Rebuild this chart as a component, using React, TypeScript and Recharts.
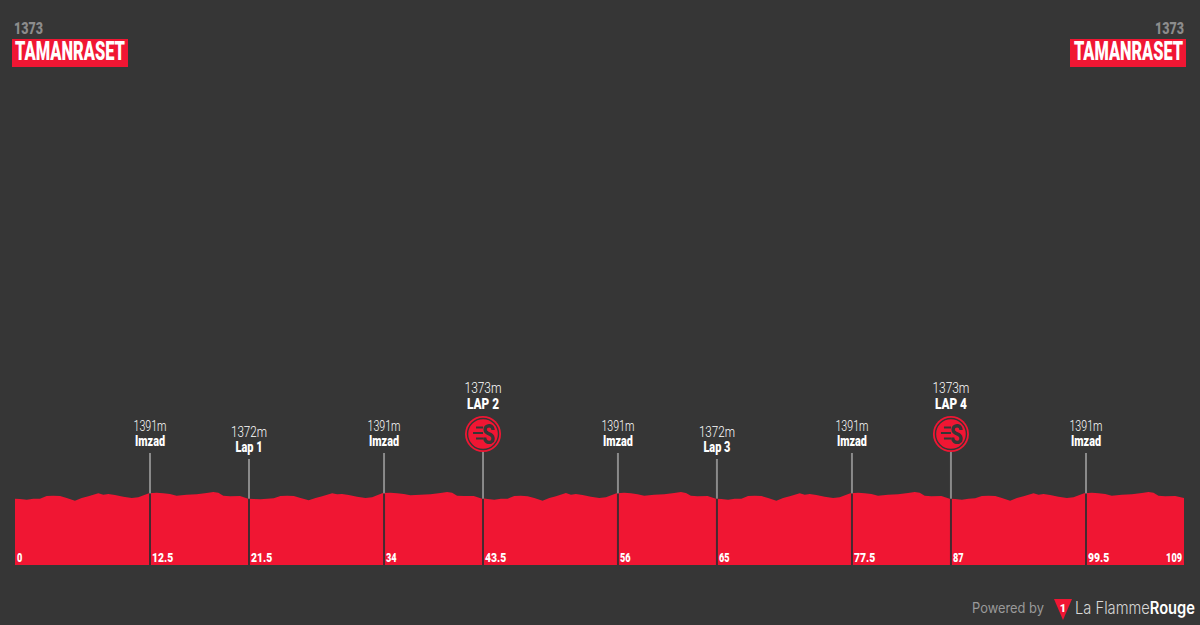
import React from "react";
import { ComposedChart, Area, XAxis, YAxis, ReferenceLine } from "recharts";

const BG = "#363636";
const RED = "#F01633";
const FONT = "Roboto, sans-serif";
const FOOTER_FONT = "Inter, sans-serif";

// profile, lap by lap
const lap1Km = [0, 0.47, 1.09, 1.71, 2.33, 2.95, 3.57, 4.2, 4.82, 5.59, 6.22, 6.84, 7.77, 8.24, 8.7, 9.32, 10.1, 10.88, 11.5, 12.49, 13.21, 13.83, 14.45, 15.07, 16.0, 16.94, 17.87, 18.49, 18.96, 19.42, 20.05, 20.98, 21.75];
const lap1Elevation = [1374, 1373, 1371, 1374, 1374, 1382, 1383, 1382, 1376, 1368, 1376, 1381, 1390, 1386, 1388, 1385, 1380, 1376, 1378, 1390, 1392, 1390, 1388, 1383, 1386, 1387, 1391, 1394, 1392, 1383, 1381, 1382, 1374];
const lap2Km = [21.8, 22.27, 22.89, 23.51, 24.13, 24.75, 25.37, 26.0, 26.62, 27.39, 28.02, 28.64, 29.57, 30.04, 30.5, 31.12, 31.9, 32.68, 33.3, 34.29, 35.01, 35.63, 36.25, 36.87, 37.8, 38.74, 39.67, 40.29, 40.76, 41.22, 41.85, 42.78, 43.55];
const lap2Elevation = [1374, 1373, 1372, 1374, 1375, 1382, 1383, 1382, 1376, 1369, 1376, 1381, 1390, 1387, 1388, 1385, 1380, 1376, 1378, 1391, 1392, 1390, 1388, 1384, 1386, 1387, 1391, 1394, 1392, 1383, 1382, 1382, 1374];
const lap3Km = [43.6, 44.07, 44.69, 45.31, 45.93, 46.55, 47.17, 47.8, 48.42, 49.19, 49.82, 50.44, 51.37, 51.84, 52.3, 52.92, 53.7, 54.48, 55.1, 56.09, 56.81, 57.43, 58.05, 58.67, 59.6, 60.54, 61.47, 62.09, 62.56, 63.02, 63.65, 64.58, 65.35];
const lap3Elevation = [1375, 1373, 1371, 1374, 1374, 1382, 1383, 1381, 1376, 1368, 1376, 1381, 1391, 1386, 1388, 1385, 1380, 1376, 1378, 1390, 1392, 1390, 1387, 1383, 1386, 1387, 1391, 1394, 1391, 1383, 1381, 1382, 1374];
const lap4Km = [65.4, 65.87, 66.49, 67.11, 67.73, 68.35, 68.97, 69.6, 70.22, 70.99, 71.62, 72.24, 73.17, 73.64, 74.1, 74.72, 75.5, 76.28, 76.9, 77.89, 78.61, 79.23, 79.85, 80.47, 81.4, 82.34, 83.27, 83.89, 84.36, 84.82, 85.45, 86.38, 87.15];
const lap4Elevation = [1374, 1373, 1371, 1374, 1374, 1382, 1383, 1382, 1376, 1368, 1376, 1381, 1390, 1386, 1388, 1385, 1380, 1376, 1378, 1390, 1392, 1390, 1388, 1383, 1386, 1387, 1391, 1394, 1392, 1383, 1381, 1382, 1374];
const lap5Km = [87.2, 87.67, 88.29, 88.91, 89.53, 90.15, 90.77, 91.4, 92.02, 92.79, 93.42, 94.04, 94.97, 95.44, 95.9, 96.52, 97.3, 98.08, 98.7, 99.69, 100.41, 101.03, 101.65, 102.27, 103.2, 104.14, 105.07, 105.69, 106.16, 106.62, 107.25, 108.18, 109];
const lap5Elevation = [1374, 1373, 1371, 1374, 1375, 1382, 1383, 1382, 1376, 1368, 1376, 1381, 1390, 1386, 1388, 1385, 1380, 1376, 1378, 1390, 1392, 1390, 1388, 1383, 1386, 1387, 1391, 1394, 1392, 1383, 1381, 1382, 1376];

const profile = [
  ...lap1Km.map((km, i) => ({ km, elevation: lap1Elevation[i] })),
  ...lap2Km.map((km, i) => ({ km, elevation: lap2Elevation[i] })),
  ...lap3Km.map((km, i) => ({ km, elevation: lap3Elevation[i] })),
  ...lap4Km.map((km, i) => ({ km, elevation: lap4Elevation[i] })),
  ...lap5Km.map((km, i) => ({ km, elevation: lap5Elevation[i] })),
];

// waypoints
const waypointKm = [12.59, 21.82, 34.41, 43.64, 56.22, 65.45, 78.04, 87.27, 99.86];
const waypointNames = ["Imzad", "Lap 1", "Imzad", "LAP 2", "Imzad", "Lap 3", "Imzad", "LAP 4", "Imzad"];
const waypointAltitudes = ["1391m", "1372m", "1391m", "1373m", "1391m", "1372m", "1391m", "1373m", "1391m"];
const waypointGround = [1390, 1374, 1390, 1374, 1390, 1374, 1390, 1374, 1390];
const waypointStemTop = [1511, 1493, 1511, 1514, 1511, 1493, 1511, 1514, 1511];

const tickKm = [0, 12.59, 21.82, 34.41, 43.64, 56.22, 65.45, 78.04, 87.27, 99.86, 109];
const tickLabels = ["0", "12.5", "21.5", "34", "43.5", "56", "65", "77.5", "87", "99.5", "109"];

const startName = "TAMANRASET";
const startAltitude = "1373";

function FitText({ x, y, width, size, weight = 700, fill = "#fff", anchor = "middle", family = FONT, children }: any) {
  return (
    <text
      x={x}
      y={y}
      fontFamily={family}
      fontSize={size}
      fontWeight={weight}
      fill={fill}
      textAnchor={anchor}
      textLength={width}
      lengthAdjust="spacingAndGlyphs"
    >
      {children}
    </text>
  );
}

function SprintIcon({ cx, cy }: { cx: number; cy: number }) {
  return (
    <g>
      <circle cx={cx} cy={cy} r={18} fill={RED} />
      <circle cx={cx} cy={cy} r={15.5} fill={RED} stroke={BG} strokeWidth={1.4} />
      <line x1={cx - 7} x2={cx} y1={cy - 6.5} y2={cy - 6.5} stroke={BG} strokeWidth={2} />
      <line x1={cx - 10} x2={cx} y1={cy - 1} y2={cy - 1} stroke={BG} strokeWidth={2} />
      <line x1={cx - 7} x2={cx} y1={cy + 4.5} y2={cy + 4.5} stroke={BG} strokeWidth={2} />
      <FitText x={cx + 5.5} y={cy + 9.5} width={13} size={27} weight={800} fill={BG}>
        S
      </FitText>
    </g>
  );
}

function WaypointLabel({ viewBox, index }: any) {
  const x = viewBox.x;
  const top = viewBox.y;
  const name = waypointNames[index];
  if (name.startsWith("LAP")) {
    return (
      <g>
        <SprintIcon cx={x} cy={top - 18} />
        <FitText x={x} y={top - 59} width={37} size={15.5} weight={300}>
          {waypointAltitudes[index]}
        </FitText>
        <FitText x={x} y={top - 43} width={32} size={15} weight={900}>
          {name}
        </FitText>
      </g>
    );
  }
  return (
    <g>
      <FitText x={x} y={top - 22} width={name === "Imzad" ? 33 : 36} size={15.5} weight={300}>
        {waypointAltitudes[index]}
      </FitText>
      <FitText x={x} y={top - 7} width={name === "Imzad" ? 30 : 27} size={15} weight={900}>
        {name}
      </FitText>
    </g>
  );
}

function KmLabel({ viewBox, index }: any) {
  const last = index === tickKm.length - 1;
  const label = tickLabels[index];
  return (
    <FitText
      x={last ? viewBox.x - 2 : viewBox.x + 2}
      y={viewBox.y - 2}
      width={label.length * 5.3}
      size={13}
      weight={900}
      anchor={last ? "end" : "start"}
    >
      {label}
    </FitText>
  );
}

function Overlay() {
  return (
    <svg width={1200} height={625} style={{ position: "absolute", left: 0, top: 0, pointerEvents: "none" }}>
      <FitText x={14} y={34} width={29} size={17} weight={900} fill="#8c8c8c" anchor="start">
        {startAltitude}
      </FitText>
      <rect x={12} y={39} width={116} height={28} fill={RED} />
      <FitText x={15} y={60} width={110} size={25} weight={900} anchor="start">
        {startName}
      </FitText>

      <FitText x={1155} y={34} width={29} size={17} weight={900} fill="#8c8c8c" anchor="start">
        {startAltitude}
      </FitText>
      <rect x={1070} y={39} width={116} height={28} fill={RED} />
      <FitText x={1074} y={60} width={109} size={25} weight={900} anchor="start">
        {startName}
      </FitText>

      <FitText x={972} y={613} width={72} size={14} weight={400} fill="#9a9a9a" anchor="start" family={FOOTER_FONT}>
        Powered by
      </FitText>
      <polygon points="1054,599 1072,599 1063,620" fill={RED} />
      <text x={1063} y={612} textAnchor="middle" fontFamily={FONT} fontSize={11} fontWeight={900} fill="#fff">
        1
      </text>
      <text
        x={1075}
        y={614}
        fontFamily={FOOTER_FONT}
        fontSize={17}
        fontWeight={300}
        fill="#d8d8d8"
        textLength={120}
        lengthAdjust="spacingAndGlyphs"
      >
        La Flamme
        <tspan fontWeight={600} fill="#fff">
          Rouge
        </tspan>
      </text>
    </svg>
  );
}

export default function App() {
  return (
    <div style={{ position: "absolute", left: 0, top: 0, width: 1200, height: 625, background: BG, overflow: "hidden" }}>
      <ComposedChart
        width={1200}
        height={625}
        data={profile}
        margin={{ top: 25, right: 16, bottom: 60, left: 15 }}
      >
        <XAxis dataKey="km" type="number" domain={[0, 109]} ticks={tickKm} height={0} axisLine={false} tickLine={false} tick={false} />
        <YAxis hide type="number" domain={[1175, 2795]} />
        <Area
          type="linear"
          dataKey="elevation"
          stroke="none"
          fill={RED}
          fillOpacity={1}
          baseValue={1175}
          dot={false}
          activeDot={false}
          isAnimationActive={false}
        />
        {waypointKm.map((km, i) => (
          <ReferenceLine
            key={`ground-${i}`}
            segment={[
              { x: km, y: 1175 },
              { x: km, y: waypointGround[i] },
            ]}
            stroke="#452a30"
            strokeOpacity={1}
            strokeWidth={2}
          />
        ))}
        {waypointKm.map((km, i) => (
          <ReferenceLine
            key={`stem-${i}`}
            segment={[
              { x: km, y: waypointGround[i] },
              { x: km, y: waypointStemTop[i] },
            ]}
            stroke="#8a8a8a"
            strokeWidth={2}
            label={(props: any) => <WaypointLabel {...props} index={i} />}
          />
        ))}
        {tickKm.map((km, i) => (
          <ReferenceLine
            key={`tick-${i}`}
            segment={[
              { x: km, y: 1175 },
              { x: km, y: 1178 },
            ]}
            stroke="none"
            label={(props: any) => <KmLabel {...props} index={i} />}
          />
        ))}
      </ComposedChart>
      <Overlay />
    </div>
  );
}
